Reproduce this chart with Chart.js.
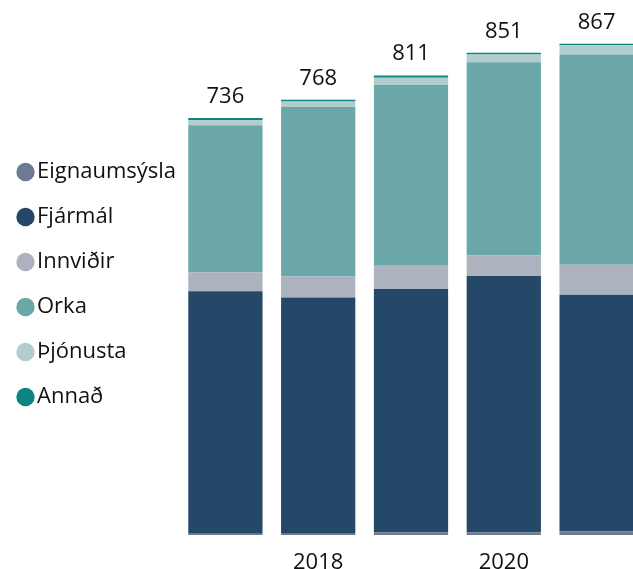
<!DOCTYPE html>
<html>
<head>
<meta charset="utf-8">
<script src="https://cdn.jsdelivr.net/npm/chart.js@4/dist/chart.umd.min.js"></script>
<style>
  html, body { margin: 0; padding: 0; background: #fff; overflow: hidden; }
  #wrap { position: absolute; left: 0; top: 0; width: 643px; height: 569px; }
</style>
</head>
<body>
<div id="wrap"><canvas id="chart" width="643" height="569"></canvas></div>
<script>
const years = ['2017', '2018', '2019', '2020', '2021']
const totals = [736, 768, 811, 851, 867]

const eignaumsysla = [2, 2, 5, 5, 6]
const fjarmal = [428, 417, 429, 452, 418]
const innvidir = [33, 37, 41, 36, 53]
const orka = [260, 299, 319, 341, 371]
const thjonusta = [9, 10, 13, 14, 16]
const annad = [4, 3, 4, 3, 3]

const font = "'Open Sans', sans-serif"
const textColor = '#111111'

// numbers above each stack
const totalLabels = {
  id: 'totalLabels',
  afterDatasetsDraw(chart) {
    const ctx = chart.ctx
    const last = chart.getDatasetMeta(chart.data.datasets.length - 1)
    ctx.save()
    ctx.font = "22px " + font
    ctx.fillStyle = textColor
    ctx.textAlign = 'center'
    ctx.textBaseline = 'alphabetic'
    last.data.forEach((bar, i) => {
      ctx.fillText(totals[i], bar.x, bar.y - 15)
    })
    ctx.restore()
  }
}

// fixed legend width so the plot starts where the original does
const legendWidth = {
  id: 'legendWidth',
  beforeInit(chart) {
    const fit = chart.legend.fit
    chart.legend.fit = function () {
      fit.bind(chart.legend)()
      this.width = 177
    }
  }
}

const ctx = document.getElementById('chart')

new Chart(ctx, {
  type: 'bar',
  data: {
    labels: years,
    datasets: [
      { label: 'Eignaumsýsla', data: eignaumsysla, backgroundColor: '#6c7b92' },
      { label: 'Fjármál', data: fjarmal, backgroundColor: '#264868' },
      { label: 'Innviðir', data: innvidir, backgroundColor: '#adb3be' },
      { label: 'Orka', data: orka, backgroundColor: '#6ba7a8' },
      { label: 'Þjónusta', data: thjonusta, backgroundColor: '#b1cdcd' },
      { label: 'Annað', data: annad, backgroundColor: '#0c8580' }
    ]
  },
  options: {
    responsive: false,
    animation: false,
    layout: { padding: { left: 2, right: 0, top: 0, bottom: 0 } },
    datasets: {
      bar: { barPercentage: 0.8, categoryPercentage: 1, borderWidth: 0 }
    },
    plugins: {
      legend: {
        position: 'left',
        align: 'center',
        labels: {
          usePointStyle: true,
          pointStyle: 'circle',
          boxWidth: 1,
          boxHeight: 13,
          padding: 23,
          color: textColor,
          font: { family: font, size: 22 }
        }
      },
      tooltip: { enabled: false }
    },
    scales: {
      x: {
        stacked: true,
        grid: { display: false },
        border: { display: false },
        ticks: {
          padding: 7,
          color: textColor,
          font: { family: font, size: 22 },
          maxRotation: 0,
          autoSkip: false,
          callback: function (value, index) {
            return index % 2 === 1 ? this.getLabelForValue(value) : ''
          }
        },
        afterFit(scale) { scale.height = 34 }
      },
      y: {
        stacked: true,
        display: false,
        min: 0,
        max: 944
      }
    }
  },
  plugins: [totalLabels, legendWidth]
})
</script>
</body>
</html>
